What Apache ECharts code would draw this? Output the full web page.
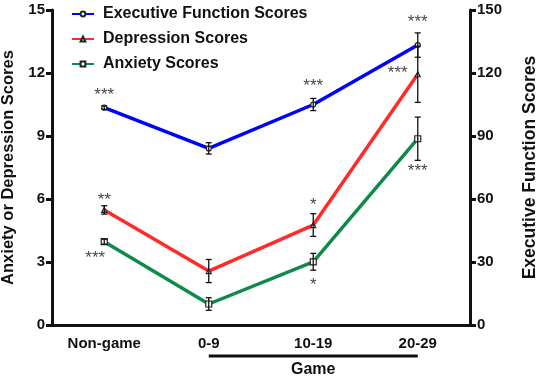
<!DOCTYPE html>
<html>
<head>
<meta charset="utf-8">
<script src="https://cdn.jsdelivr.net/npm/echarts@6/dist/echarts.min.js"></script>
<style>
  html, body { margin: 0; padding: 0; background: #fff; }
  #chart { width: 536px; height: 378px; }
</style>
</head>
<body>
<div id="chart"></div>
<script>
// data
var categories = ['Non-game', '0-9', '10-19', '20-29'];
var execScores = [103.5, 84.1, 105.0, 133.3];
var execErr = [0.8, 2.7, 2.9, 5.8];
var execStars = ['***', '', '***', '***'];
var depScores = [5.48, 2.57, 4.76, 11.94];
var depErr = [0.2, 0.55, 0.54, 1.34];
var depStars = ['**', '', '*', '***'];
var anxScores = [3.97, 1.0, 3.01, 8.87];
var anxErr = [0.12, 0.3, 0.4, 1.03];
var anxStars = ['***', '', '*', '***'];
var leftTicks = [0, 3, 6, 9, 12, 15];
var rightTicks = [0, 30, 60, 90, 120, 150];

var FONT = 'Liberation Sans, Arial, sans-serif';
var chart = echarts.init(document.getElementById('chart'));

function errData(vals, errs) {
  return vals.map(function (v, i) { return [i, v - errs[i], v + errs[i]]; });
}

function errSeries(name, vals, errs, yIdx) {
  return {
    name: name + ' err',
    type: 'custom',
    yAxisIndex: yIdx,
    z: 5,
    silent: true,
    data: errData(vals, errs),
    renderItem: function (params, api) {
      var lo = api.coord([api.value(0), api.value(1)]);
      var hi = api.coord([api.value(0), api.value(2)]);
      var w = 3;
      var st = { stroke: '#111', lineWidth: 1.3 };
      return {
        type: 'group',
        children: [
          { type: 'line', shape: { x1: lo[0], y1: lo[1], x2: hi[0], y2: hi[1] }, style: st },
          { type: 'line', shape: { x1: lo[0] - w, y1: lo[1], x2: lo[0] + w, y2: lo[1] }, style: st },
          { type: 'line', shape: { x1: hi[0] - w, y1: hi[1], x2: hi[0] + w, y2: hi[1] }, style: st }
        ]
      };
    }
  };
}

// star labels: where each asterisk sits relative to the point
var execPos = [[0, -12], [0, 0], [0, -18], [0, -23]];
var depPos = [[0, -10], [0, 0], [0, -20], [-20, -1]];
var anxPos = [[-9, 17], [0, 0], [0, 24], [0, 33]];

function starData(vals, stars, offs) {
  return vals.map(function (v, i) {
    return {
      value: [i, v],
      label: { show: stars[i] !== '', formatter: stars[i], offset: offs[i] }
    };
  });
}

function starSeries(vals, stars, offs, yIdx) {
  return {
    type: 'scatter',
    yAxisIndex: yIdx,
    symbolSize: 0,
    silent: true,
    z: 6,
    data: starData(vals, stars, offs),
    label: {
      position: 'inside',
      color: '#111',
      fontFamily: FONT,
      fontSize: 17,
      fontWeight: 'normal'
    }
  };
}

function lineSeries(name, vals, color, symbol, size, yIdx) {
  return {
    name: name,
    type: 'line',
    yAxisIndex: yIdx,
    data: vals,
    z: 4,
    symbol: symbol,
    symbolSize: size,
    lineStyle: { color: color, width: 3.5 },
    itemStyle: { color: '#fff', borderColor: '#222', borderWidth: 1.2 }
  };
}

var axisLab = { color: '#111', fontFamily: FONT, fontSize: 15, fontWeight: 'bold' };

var option = {
  animation: false,
  backgroundColor: '#fff',
  grid: { left: 52, right: 66, top: 10, bottom: 53, containLabel: false, outerBoundsMode: 'none' },
  legend: {
    orient: 'vertical',
    left: 66,
    top: 1,
    itemGap: 9,
    itemWidth: 22,
    itemHeight: 6,
    textStyle: { color: '#111', fontFamily: FONT, fontSize: 16, fontWeight: 'bold', padding: [0, 0, 0, 4] },
    data: ['Executive Function Scores', 'Depression Scores', 'Anxiety Scores']
  },
  xAxis: {
    type: 'category',
    data: categories,
    boundaryGap: true,
    axisLine: { lineStyle: { color: '#111', width: 3 } },
    axisTick: { alignWithLabel: true, length: 6, lineStyle: { color: '#111', width: 3 } },
    axisLabel: Object.assign({ margin: 11 }, axisLab)
  },
  yAxis: [
    {
      type: 'value',
      min: 0, max: 15, interval: 3,
      position: 'left',
      name: 'Anxiety or Depression Scores',
      nameLocation: 'middle',
      nameRotate: 90,
      nameGap: 35,
      nameTextStyle: { color: '#111', fontFamily: FONT, fontSize: 16.5, fontWeight: 'bold' },
      splitLine: { show: false },
      axisLine: { show: true, lineStyle: { color: '#111', width: 3 } },
      axisTick: { show: true, length: 6, lineStyle: { color: '#111', width: 3 } },
      axisLabel: Object.assign({ margin: 7, formatter: function (v) { return leftTicks.indexOf(v) >= 0 ? v : ''; } }, axisLab)
    },
    {
      type: 'value',
      min: 0, max: 150, interval: 30,
      position: 'right',
      name: 'Executive Function Scores',
      nameLocation: 'middle',
      nameRotate: 90,
      nameGap: 51,
      nameTextStyle: { color: '#111', fontFamily: FONT, fontSize: 17.5, fontWeight: 'bold' },
      splitLine: { show: false },
      axisLine: { show: true, lineStyle: { color: '#111', width: 3 } },
      axisTick: { show: true, length: 6, lineStyle: { color: '#111', width: 3 } },
      axisLabel: Object.assign({ margin: 7, formatter: function (v) { return rightTicks.indexOf(v) >= 0 ? v : ''; } }, axisLab)
    }
  ],
  series: [
    lineSeries('Executive Function Scores', execScores, '#0000ff', 'circle', 5, 1),
    lineSeries('Depression Scores', depScores, '#ff2a2a', 'triangle', 5, 0),
    lineSeries('Anxiety Scores', anxScores, '#0f8a4a', 'rect', 6, 0),
    errSeries('exec', execScores, execErr, 1),
    errSeries('dep', depScores, depErr, 0),
    errSeries('anx', anxScores, anxErr, 0),
    starSeries(execScores, execStars, execPos, 1),
    starSeries(depScores, depStars, depPos, 0),
    starSeries(anxScores, anxStars, anxPos, 0)
  ]
};

chart.setOption(option);

// "Game" bracket under the game categories
var p1 = chart.convertToPixel({ xAxisIndex: 0 }, 1);
var p3 = chart.convertToPixel({ xAxisIndex: 0 }, 3);
var yBase = chart.convertToPixel({ yAxisIndex: 0 }, 0);
chart.setOption({
  graphic: [
    { type: 'line', shape: { x1: p1, y1: yBase + 31, x2: p3, y2: yBase + 31 }, style: { stroke: '#111', lineWidth: 3 } },
    { type: 'text', x: (p1 + p3) / 2, y: yBase + 45, style: { text: 'Game', align: 'center', verticalAlign: 'middle', fill: '#111', font: 'bold 16px Liberation Sans, Arial, sans-serif' } }
  ]
});
</script>
</body>
</html>
